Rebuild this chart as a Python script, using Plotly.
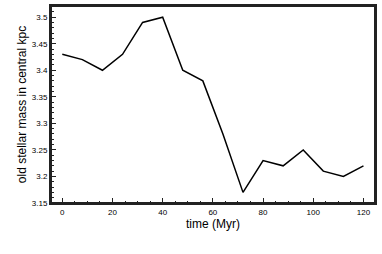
import plotly.graph_objects as go

time_myr = [0, 8, 16, 24, 32, 40, 48, 56, 64, 72, 80, 88, 96, 104, 112, 120]
old_mass = [3.43, 3.42, 3.40, 3.43, 3.49, 3.50, 3.40, 3.38, 3.28, 3.17, 3.23, 3.22, 3.25, 3.21, 3.20, 3.22]

x_ticks = [0, 20, 40, 60, 80, 100, 120]
y_ticks = [3.15, 3.2, 3.25, 3.3, 3.35, 3.4, 3.45, 3.5]
y_labels = ["3.15", "3.2", "3.25", "3.3", "3.35", "3.4", "3.45", "3.5"]

fig = go.Figure(go.Scatter(x=time_myr, y=old_mass, mode="lines",
                           line=dict(color="black", width=1.5)))

font = "Liberation Sans, Arial, sans-serif"
fig.update_layout(
    width=382, height=254,
    margin=dict(l=51, r=7, t=6, b=51, autoexpand=False),
    paper_bgcolor="white", plot_bgcolor="white",
    showlegend=False,
    font=dict(family=font, color="black", size=8),
    shapes=[dict(type="rect", xref="paper", yref="paper", x0=0, x1=1, y0=0, y1=1,
                 line=dict(color="#222", width=2), layer="above")],
)
fig.update_xaxes(
    automargin=False,
    range=[-4.5, 124.6], tickvals=x_ticks, ticks="inside", ticklen=5, tickwidth=1,
    tickcolor="#222", showline=True, linecolor="#222", linewidth=2, mirror=True,
    showgrid=False, zeroline=False,
    minor=dict(dtick=5, tick0=0, ticks="inside", ticklen=2.5, tickcolor="#222", showgrid=False),
    title=dict(text="time (Myr)", font=dict(size=12), standoff=3),
    tickfont=dict(size=8),
)
fig.update_yaxes(
    automargin=False,
    range=[3.15, 3.521], tickvals=y_ticks, ticktext=y_labels, ticks="inside", ticklen=5,
    tickwidth=1, tickcolor="#222", showline=True, linecolor="#222", linewidth=2,
    mirror=True, showgrid=False, zeroline=False,
    minor=dict(dtick=0.01, tick0=3.15, ticks="inside", ticklen=2.5, tickcolor="#222", showgrid=False),
    title=dict(text="old stellar mass in central kpc", font=dict(size=12), standoff=3),
    tickfont=dict(size=8),
)
fig.write_html("out.html", config={"displayModeBar": False},
               post_script="document.body.style.margin='0';")
